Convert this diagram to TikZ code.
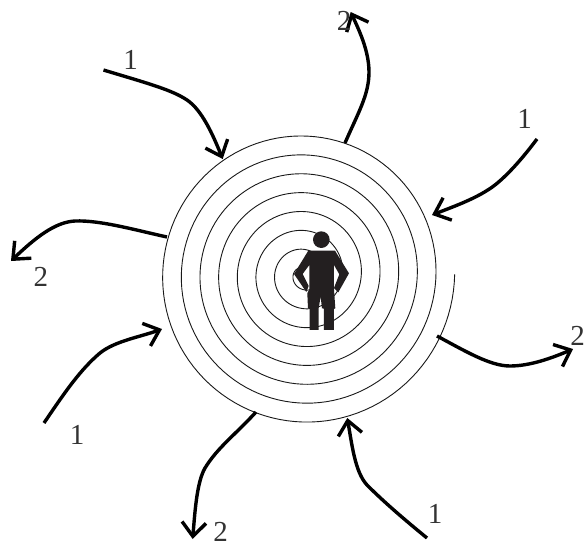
\documentclass[tikz,border=0pt]{standalone}
\usepackage{fontspec}
\setmainfont{Liberation Serif}
\usetikzlibrary{arrows.meta}
\definecolor{ink}{HTML}{231F20}
\definecolor{lab}{HTML}{333333}
\tikzset{
  flow/.style={line width=3.4pt,black,line cap=butt,-{Straight Barb[length=14pt,width=24pt,line width=3.4pt]}},
  spiralline/.style={line width=0.9pt,black!90},
  num/.style={font=\fontsize{29}{29}\selectfont,text=lab,inner sep=0pt,anchor=center},
  figure/.style={fill=ink,draw=none}
}
\begin{document}
\begin{tikzpicture}[x=1pt,y=-1pt]
\useasboundingbox (0,0) rectangle (584,546);
\fill[white] (0,0) rectangle (584,546);
% spiral
\draw[spiralline] plot[domain=0:7.8,samples=900] ({304+(150.67-18.67*\x)*cos(360*\x)},{274.3+1.012*(150.67-18.67*\x)*sin(360*\x)});
% person
\begin{scope}[shift={(150,130)},x=0.3333pt,y=-0.3333pt]
\fill[figure] (514,329) circle[radius=25];
\fill[figure] (475,362) -- (555,362) -- (597,430) -- (565,487) -- (552,474) -- (568,433) -- (552,405)
  -- (552,478) -- (556,535) -- (552,537) -- (552,600) -- (522,600) -- (522,536) -- (516,535) -- (512,500)
  -- (506,535) -- (506,600) -- (479,600) -- (479,537) -- (474,535) -- (472,490) -- (478,478)
  -- (478,405) -- (458,432) -- (476,468) -- (469,486) -- (432,432) -- cycle;
\end{scope}
% connector ends
\coordinate (a1s) at (103.5,70);  \coordinate (a1m) at (187,100); \coordinate (a1t) at (222.7,159);
\coordinate (o1s) at (345,143);   \coordinate (o1m) at (369,72);  \coordinate (o1t) at (350.7,12);
\coordinate (a4s) at (537,139);   \coordinate (a4m) at (495,185); \coordinate (a4t) at (432,215);
\coordinate (o3s) at (437,336);   \coordinate (o3m) at (510,366); \coordinate (o3t) at (573,349);
\coordinate (o2s) at (167,237);   \coordinate (o2m) at (75,221);  \coordinate (o2t) at (11,261);
\coordinate (a2s) at (44,423);    \coordinate (a2m) at (100,353); \coordinate (a2t) at (162,329);
\coordinate (o4s) at (256,412);   \coordinate (o4m) at (205,468); \coordinate (o4t) at (192.7,539);
\coordinate (a3s) at (427,538);   \coordinate (a3m) at (367,485); \coordinate (a3t) at (347.3,418);
\draw[flow] (a1s) .. controls (150,84) and (172,90) .. (a1m) .. controls (202,110) and (213,135) .. (a1t);
\draw[flow] (o1s) .. controls (358,113) and (369,95) .. (o1m) .. controls (369,50) and (358,28) .. (o1t);
\draw[flow] (a4s) .. controls (525,155) and (510,173) .. (a4m) .. controls (478,198) and (455,206) .. (a4t);
\draw[flow] (o3s) .. controls (465,351) and (490,366) .. (o3m) .. controls (530,366) and (552,358) .. (o3t);
\draw[flow] (o2s) .. controls (135,230) and (100,220) .. (o2m) .. controls (55,222) and (35,238) .. (o2t);
\draw[flow] (a2s) .. controls (65,392) and (80,370) .. (a2m) .. controls (115,341) and (140,337) .. (a2t);
\draw[flow] (o4s) .. controls (235,435) and (218,447) .. (o4m) .. controls (197,482) and (195,510) .. (o4t);
\draw[flow] (a3s) .. controls (405,520) and (385,503) .. (a3m) .. controls (355,472) and (352,445) .. (a3t);
% labels
\node[num] (l1) at (130.7,60) {1};
\node[num] (l2) at (344,20.7) {2};
\node[num] (l3) at (524.7,119) {1};
\node[num] (l4) at (577.7,335.7) {2};
\node[num] (l5) at (41,276.7) {2};
\node[num] (l6) at (77,435) {1};
\node[num] (l7) at (220.7,532) {2};
\node[num] (l8) at (435,514) {1};
\end{tikzpicture}
\end{document}
